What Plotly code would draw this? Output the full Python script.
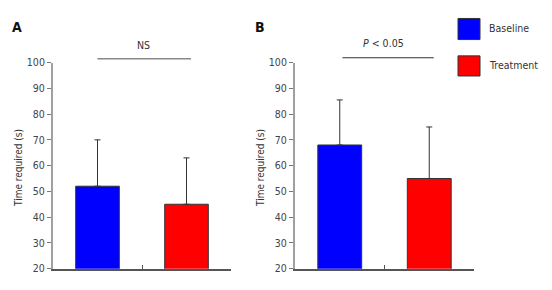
import plotly.graph_objects as go

groups = ["Baseline", "Treatment"]
colors = ["#0000ff", "#ff0000"]
panelA_means = [52, 45]
panelA_err = [18, 18]
panelB_means = [68, 55]
panelB_err = [17.5, 20]
y_ticks = [20, 30, 40, 50, 60, 70, 80, 90, 100]

W, H = 552, 290
def px(x): return x / W
def py(y): return 1 - y / H

FONT = "DejaVu Sans Condensed, DejaVu Sans, sans-serif"

fig = go.Figure()
for i, (means, errs) in enumerate([(panelA_means, panelA_err), (panelB_means, panelB_err)]):
    xa = "x" if i == 0 else "x2"
    ya = "y" if i == 0 else "y2"
    fig.add_trace(go.Bar(
        x=[0, 1], y=means, width=0.49,
        marker=dict(color=colors, line=dict(color="#333333", width=1)),
        error_y=dict(type="data", symmetric=False, array=errs, arrayminus=[0, 0],
                     color="#333333", thickness=1, width=3),
        xaxis=xa, yaxis=ya, showlegend=False,
    ))

ydom = [py(274), py(59)]
common_x = dict(range=[-0.5, 1.5], showgrid=False, zeroline=False, showticklabels=False,
                showline=True, linecolor="#555555", linewidth=1.5,
                ticks="inside", tickvals=[0.5, 1.5], ticklen=4, tickcolor="#555555", tickwidth=1)
common_y = dict(range=[20, 100], showgrid=False, zeroline=False,
                showline=True, linecolor="#a0a0a0", linewidth=2,
                ticks="outside", tickvals=y_ticks, ticklen=4, tickcolor="#777777", tickwidth=1,
                tickfont=dict(family=FONT, size=10.5, color="#444444"), domain=ydom)

fig.update_layout(
    width=W, height=H, margin=dict(l=0, r=0, t=0, b=0),
    paper_bgcolor="white", plot_bgcolor="white",
    xaxis=dict(domain=[px(53), px(231)], anchor="y", **common_x),
    yaxis=dict(anchor="x", **common_y),
    xaxis2=dict(domain=[px(295), px(474)], anchor="y2", **common_x),
    yaxis2=dict(anchor="x2", **common_y),
    showlegend=False,
)

shapes = [
    dict(type="line", xref="x", yref="paper", x0=0.0, x1=1.05, y0=py(55), y1=py(55),
         line=dict(color="#888888", width=1.5)),
    dict(type="line", xref="x2", yref="paper", x0=0.03, x1=1.05, y0=py(54), y1=py(54),
         line=dict(color="#333333", width=1.2)),
    dict(type="rect", xref="paper", yref="paper", x0=px(458), x1=px(480), y0=py(35), y1=py(13),
         fillcolor=colors[0], line=dict(color="#333333", width=1)),
    dict(type="rect", xref="paper", yref="paper", x0=px(458), x1=px(480), y0=py(73), y1=py(52),
         fillcolor=colors[1], line=dict(color="#333333", width=1)),
]
fig.update_layout(shapes=shapes)

ann = []
def add(text, x, y, size=10.5, xanchor="center", angle=0, color="#333333", bold=False):
    ann.append(dict(text=f"<b>{text}</b>" if bold else text, x=x, y=y, xref="paper", yref="paper",
                    xanchor=xanchor, yanchor="middle", showarrow=False, textangle=angle,
                    font=dict(family=FONT, size=size, color=color)))

add("A", px(17), py(22), size=14, bold=True, color="#111111")
add("B", px(260), py(22), size=14, bold=True, color="#111111")
add("NS", px(143), py(41), size=10.5)
add("<i>P</i> &lt; 0.05", px(383), py(39), size=10.5)
add("Time required (s)", px(18), py(169), angle=-90, size=10)
add("Time required (s)", px(260), py(169), angle=-90, size=10)
add(groups[0], px(487), py(23), xanchor="left", size=10.5)
add(groups[1], px(487), py(62), xanchor="left", size=10.5)
fig.update_layout(annotations=ann)

fig.write_html("out.html", config={"displayModeBar": False},
               post_script="document.body.style.margin='0';document.body.style.overflow='hidden';")
